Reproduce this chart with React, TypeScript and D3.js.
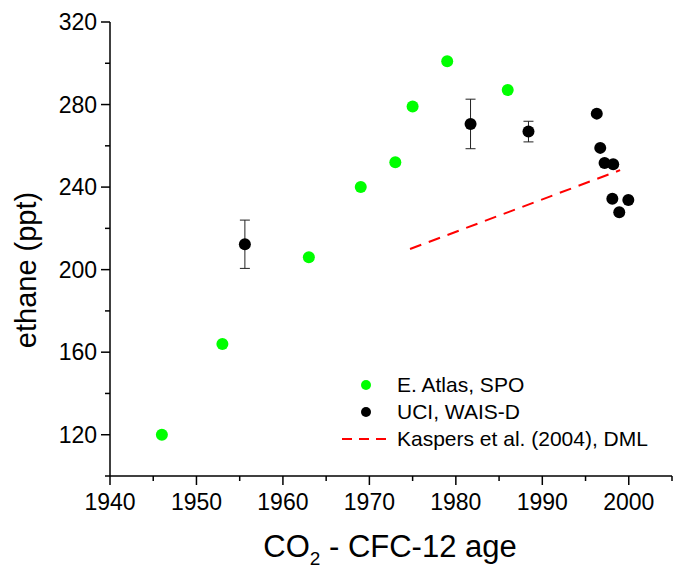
import React, { useEffect, useRef } from "react";
import * as d3 from "d3";

const atlasYears = [1946, 1953, 1963, 1969, 1973, 1975, 1979, 1986];
const atlasEthane = [120, 164, 206, 240, 252, 279, 301, 287];

const uciYears = [1955.6, 1981.7, 1988.4, 1996.3, 1996.7, 1997.2, 1998.2, 1998.1, 1999.95, 1998.9];
const uciEthane = [212.3, 270.6, 266.9, 275.6, 259, 251.7, 251.1, 234.3, 233.8, 227.8];
const uciError = [11.7, 12, 5, 0, 0, 0, 0, 0, 0, 0];

const kaspersYears = [1974.7, 1999];
const kaspersEthane = [210, 248.2];

const xTicks = [1940, 1950, 1960, 1970, 1980, 1990, 2000];
const xMinorTicks = [1945, 1955, 1965, 1975, 1985, 1995, 2005];
const yTicks = [120, 160, 200, 240, 280, 320];
const yMinorTicks = [100, 140, 180, 220, 260, 300];

const legendLabels = ["E. Atlas, SPO", "UCI, WAIS-D", "Kaspers et al. (2004), DML"];

const W = 674;
const H = 567;
const FONT = "Arial, 'Liberation Sans', sans-serif";

export default function App() {
  const ref = useRef<SVGSVGElement>(null);

  useEffect(() => {
    document.body.style.margin = "0";
    const svg = d3.select(ref.current);
    svg.selectAll("*").remove();

    const x = d3.scaleLinear().domain([1940, 2005]).range([110, 672]);
    const y = d3.scaleLinear().domain([100, 320]).range([476, 22]);

    const g = svg.append("g");

    // axes lines
    g.append("line").attr("x1", x(1940)).attr("x2", x(2005)).attr("y1", y(100)).attr("y2", y(100))
      .attr("stroke", "#000").attr("stroke-width", 1.5);
    g.append("line").attr("x1", x(1940)).attr("x2", x(1940)).attr("y1", y(100)).attr("y2", y(320))
      .attr("stroke", "#000").attr("stroke-width", 1.5);

    // x ticks
    xTicks.forEach((t) => {
      g.append("line").attr("x1", x(t)).attr("x2", x(t)).attr("y1", y(100)).attr("y2", y(100) + 9)
        .attr("stroke", "#000").attr("stroke-width", 1.5);
      g.append("text").attr("x", x(t)).attr("y", 510).attr("text-anchor", "middle")
        .attr("font-family", FONT).attr("font-size", 23).text(String(t));
    });
    xMinorTicks.forEach((t) => {
      g.append("line").attr("x1", x(t)).attr("x2", x(t)).attr("y1", y(100)).attr("y2", y(100) + 5)
        .attr("stroke", "#000").attr("stroke-width", 1.5);
    });
    // y ticks
    yTicks.forEach((t) => {
      g.append("line").attr("x1", x(1940) - 9).attr("x2", x(1940)).attr("y1", y(t)).attr("y2", y(t))
        .attr("stroke", "#000").attr("stroke-width", 1.5);
      g.append("text").attr("x", 97).attr("y", y(t)).attr("dy", "0.35em").attr("text-anchor", "end")
        .attr("font-family", FONT).attr("font-size", 23).text(String(t));
    });
    yMinorTicks.forEach((t) => {
      g.append("line").attr("x1", x(1940) - 5).attr("x2", x(1940)).attr("y1", y(t)).attr("y2", y(t))
        .attr("stroke", "#000").attr("stroke-width", 1.5);
    });

    // axis titles
    g.append("text").attr("transform", "translate(36,270) rotate(-90)").attr("text-anchor", "middle")
      .attr("font-family", FONT).attr("font-size", 29).text("ethane (ppt)");
    const xt = g.append("text").attr("x", 390).attr("y", 557).attr("text-anchor", "middle")
      .attr("font-family", FONT).attr("font-size", 31);
    xt.append("tspan").text("CO");
    xt.append("tspan").attr("font-size", 19).attr("dy", 8).text("2");
    xt.append("tspan").attr("dy", -8).text(" - CFC-12 age");

    // Kaspers line
    const line = d3.line<number>().x((_, i) => x(kaspersYears[i])).y((d) => y(d));
    g.append("path").attr("d", line(kaspersEthane)).attr("fill", "none").attr("stroke", "#ff0000")
      .attr("stroke-width", 2).attr("stroke-dasharray", "12,8");

    // error bars
    uciYears.forEach((yr, i) => {
      const e = uciError[i];
      if (!e) return;
      const cx = x(yr);
      g.append("line").attr("x1", cx).attr("x2", cx).attr("y1", y(uciEthane[i] - e)).attr("y2", y(uciEthane[i] + e))
        .attr("stroke", "#222").attr("stroke-width", 1);
      [uciEthane[i] - e, uciEthane[i] + e].forEach((v) => {
        g.append("line").attr("x1", cx - 5).attr("x2", cx + 5).attr("y1", y(v)).attr("y2", y(v))
          .attr("stroke", "#222").attr("stroke-width", 1);
      });
    });

    // points
    atlasYears.forEach((yr, i) => {
      g.append("circle").attr("cx", x(yr)).attr("cy", y(atlasEthane[i])).attr("r", 6).attr("fill", "#00ff00");
    });
    uciYears.forEach((yr, i) => {
      g.append("circle").attr("cx", x(yr)).attr("cy", y(uciEthane[i])).attr("r", 6).attr("fill", "#000");
    });

    // legend
    const ly = [385, 412, 439];
    g.append("circle").attr("cx", 366).attr("cy", ly[0]).attr("r", 5).attr("fill", "#00ff00");
    g.append("circle").attr("cx", 366).attr("cy", ly[1]).attr("r", 5).attr("fill", "#000");
    g.append("line").attr("x1", 342).attr("x2", 392).attr("y1", ly[2]).attr("y2", ly[2])
      .attr("stroke", "#ff0000").attr("stroke-width", 2).attr("stroke-dasharray", "10,7");
    legendLabels.forEach((l, i) => {
      g.append("text").attr("x", 397).attr("y", ly[i]).attr("dy", "0.35em")
        .attr("font-family", FONT).attr("font-size", 21).text(l);
    });
  }, []);

  return <svg ref={ref} width={W} height={H} style={{ display: "block", background: "#fff" }} />;
}
